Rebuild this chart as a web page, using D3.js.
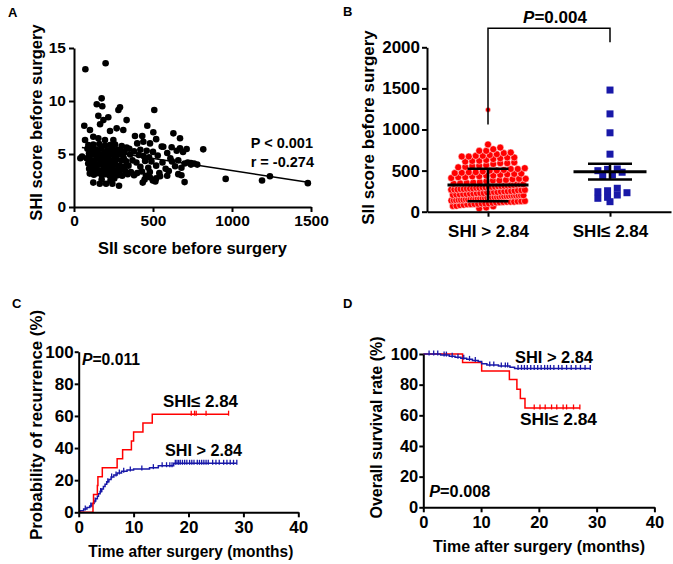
<!DOCTYPE html>
<html><head><meta charset="utf-8">
<script src="https://cdn.jsdelivr.net/npm/d3@7"></script>
<style>
body{margin:0;background:#fff}
svg text{font-family:"Liberation Sans",Arial,sans-serif;font-weight:bold;fill:#000}
</style></head><body><svg id="c" width="673" height="564"></svg>
<script>
// ---------- Panel A: SII vs SHI scatter ----------
const siiA = [72,200,175,144,179,291,281,508,154,217,186,333,65,464,165,270,312,228,502,101,386,432,629,671,122,154,70,196,249,439,481,565,618,818,671,713,51,
 91,122,160,196,228,260,302,333,555,
 85,108,135,150,172,210,240,275,295,320,380,420,460,500,590,650,690,
 95,118,140,165,188,205,235,255,283,310,355,410,440,475,530,610,660,720,760,780,
 80,100,128,152,180,198,222,248,270,300,330,370,395,450,490,560,620,700,740,
 90,112,138,160,185,212,238,262,290,318,345,420,470,520,580,640,680,
 96,120,146,170,195,220,245,268,296,325,360,400,430,480,540,600,660,
 100,126,150,176,200,226,252,276,305,340,380,455,545,590,680,1240,
 130,215,280,315,240,190,265,115,145,350,400,520,740,40,
 122,163,175,203,231,243,255,285,435,447,480,499,515,520,700,960,1190,1480];
const shiA = [13.0,13.56,10.25,9.7,9.5,9.4,9.15,9.15,8.6,8.46,8.2,8.2,7.67,7.67,7.8,7.42,7.26,7.17,7.05,7.26,6.7,6.7,6.95,6.48,6.63,6.48,6.32,6.32,6.32,6.16,6.0,5.69,5.63,5.44,5.54,5.47,4.75,
 5.85,5.9,5.95,5.8,5.85,5.9,5.75,5.6,5.7,
 5.5,5.4,5.45,5.3,5.5,5.35,5.5,5.4,5.3,5.2,5.25,5.4,5.3,5.2,5.1,5.3,5.2,
 5.05,4.95,5.1,4.9,5.0,4.8,5.0,4.85,5.0,4.9,4.95,4.9,4.8,4.7,4.85,4.6,4.4,4.2,4.1,4.0,
 4.6,4.5,4.4,4.55,4.45,4.35,4.5,4.4,4.5,4.4,4.3,4.4,4.2,4.35,4.3,4.2,4.3,4.1,4.15,
 4.1,4.0,3.95,4.05,3.9,4.0,3.85,4.0,3.9,3.8,3.9,3.8,3.7,3.9,3.6,3.85,3.7,
 3.6,3.5,3.55,3.45,3.6,3.4,3.5,3.35,3.5,3.4,3.3,3.2,3.35,3.3,3.2,3.4,3.1,
 3.15,3.05,3.2,3.0,3.1,2.95,3.05,3.0,2.95,3.1,3.0,2.95,2.9,2.95,3.0,2.9,
 3.3,3.7,3.6,4.6,4.2,4.7,5.1,4.25,4.8,5.5,6.0,6.4,4.0,4.6,
 2.3,2.2,2.6,2.2,2.5,2.2,2.7,2.0,2.3,2.6,2.8,2.5,2.4,2.7,2.35,2.65,2.5,2.25];
const fitX = [50, 1470];
const fitY = [5.62, 2.35];
const xTicksA = [0,500,1000,1500];
const yTicksA = [0,5,10,15];

// ---------- Panel B ----------
const catsB = ["SHI > 2.84", "SHI\u2264 2.84"];
const cutoffB = 2.84;
const meanB = [325, 487];
const errB = [199, 95];
const yTicksB = [0,500,1000,1500,2000];

// ---------- Panel C: recurrence ----------
const recRedT = [0,2.6,2.7,3.4,3.5,4.3,7.0,8.0,9.6,10.0,11.7,13.4];
const recRedV = [0,5.6,11.1,16.7,22.2,27.8,33.3,38.9,44.4,50.0,55.6,61.1];
const recRedEnd = 27.3;
const recRedCens = [20.5,21.1,21.4,23.2,27.3];
const recBlueT = [0,0.3,0.9,1.5,2.0,2.4,2.8,3.1,3.4,3.6,3.9,4.2,4.5,4.8,5.1,5.5,5.9,6.4,7.0,7.8,8.8,10.0,12.9,14.5,17.3];
const recBlueV = [0,1.0,2.0,3.0,4.0,5.5,7.0,8.5,10.0,11.5,13.0,14.5,16.0,17.5,19.0,20.5,22.0,23.3,24.5,25.5,26.4,27.0,27.8,29.0,30.5];
const recBlueEnd = 28.8;
const recBlueCens = [1.2,2.2,3.0,4.0,5.3,6.0,6.8,7.4,8.2,9.4,11.5,13.6,15.2,16.0,16.6,17.0,17.6,17.9,18.2,18.5,18.9,19.3,19.7,20.2,20.6,21.0,21.6,22.0,22.4,22.8,23.2,23.6,24.4,25.0,25.6,26.4,27.0,27.6,28.2,28.8];
const ticksC = [0,10,20,30,40];
const yTicksKM = [0,20,40,60,80,100];

// ---------- Panel D: overall survival ----------
const osRedT = [0,6.8,10.1,14.9,16.2,16.8,17.6];
const osRedV = [100,94.4,88.9,83.3,77.0,70.9,64.8];
const osRedEnd = 27.1;
const osRedCens = [19.2,20.2,21.1,22.2,23.1,24.2,24.8,26.0,27.1];
const osBlueT = [0,3.0,4.5,5.5,6.5,7.5,8.5,9.5,10.1,11.0,13.0,15.0,15.8];
const osBlueV = [100,99.3,98.6,97.9,97.2,96.5,95.8,95.1,93.6,92.9,92.2,91.4,90.6];
const osBlueEnd = 28.9;
const osBlueCens = [1.0,1.8,2.5,3.6,4.0,5.0,6.0,7.0,8.0,9.0,11.5,12.2,13.5,14.2,14.6,16.4,17.0,17.5,18.0,18.6,19.2,19.8,20.4,21.0,21.5,22.0,22.6,23.4,24.0,24.8,25.6,26.4,27.2,28.0,28.9];

const RED = "#ff0000", BLUE = "#1818a8";
const fmt = d3.format("d");
const svg = d3.select("#c");
svg.append("rect").attr("width",673).attr("height",564).attr("fill","#fff");

function styleAxis(g, fs){
  g.attr("font-size", fs);
  g.select(".domain").attr("stroke","#000").attr("stroke-width",2);
  g.selectAll(".tick line").attr("stroke","#000").attr("stroke-width",2);
  g.selectAll(".tick text").attr("fill","#000");
}
function txt(x,y,s,fs,anchor,len){
  const t = svg.append("text").attr("x",x).attr("y",y).attr("font-size",fs).attr("text-anchor",anchor||"start").text(s);
  if(len){t.attr("textLength",len).attr("lengthAdjust","spacingAndGlyphs");}
  return t;
}
function vtxt(x,y,s,fs,len){
  const t = svg.append("text").attr("transform",`translate(${x},${y}) rotate(-90)`).attr("font-size",fs).attr("text-anchor","middle").text(s);
  if(len){t.attr("textLength",len).attr("lengthAdjust","spacingAndGlyphs");}
  return t;
}
function ptxt(x,y,rest,fs,anchor,len){
  const t = svg.append("text").attr("x",x).attr("y",y).attr("font-size",fs).attr("text-anchor",anchor||"start");
  t.append("tspan").attr("font-style","italic").text("P");
  t.append("tspan").text(rest);
  if(len){t.attr("textLength",len).attr("lengthAdjust","spacingAndGlyphs");}
}

// Panel letters
txt(8,17,"A",13); txt(343,16,"B",13); txt(12,308,"C",13); txt(343,308,"D",13);

// ===== Panel A =====
const xA = d3.scaleLinear([0,1500],[74,311]);
const yA = d3.scaleLinear([0,15],[207,48]);
svg.append("g").selectAll("circle").data(siiA.map((v,i)=>[v,shiA[i]])).join("circle")
  .attr("cx",d=>xA(d[0])).attr("cy",d=>yA(d[1])).attr("r",3.3).attr("fill","#000");
svg.append("line").attr("x1",xA(fitX[0])).attr("y1",yA(fitY[0])).attr("x2",xA(fitX[1])).attr("y2",yA(fitY[1]))
  .attr("stroke","#000").attr("stroke-width",1.5);
styleAxis(svg.append("g").attr("transform","translate(0,207)").call(d3.axisBottom(xA).tickValues(xTicksA).tickFormat(fmt).tickSize(5).tickPadding(3).tickSizeOuter(0)),15.5);
styleAxis(svg.append("g").attr("transform","translate(74,0)").call(d3.axisLeft(yA).tickValues(yTicksA).tickFormat(fmt).tickSize(5).tickPadding(3).tickSizeOuter(0)),15.5);
vtxt(42,122.5,"SHI score before surgery",16.5);
txt(192.5,254,"SII score before surgery",16.5,"middle");
txt(313,148,"P < 0.001",14.5,"end");
txt(314,167,"r = -0.274",14.5,"end");

// ===== Panel B =====
const yB = d3.scaleLinear([0,2000],[211.7,47.3]);
const xB = d3.scalePoint(catsB,[427,671]).padding(0.5);
const redB = siiA.filter((v,i)=>shiA[i] > cutoffB);
const blueB = siiA.filter((v,i)=>shiA[i] <= cutoffB);
function swarm(vals, cx, binPx, spacing, maxHalf){
  const sorted = vals.slice().sort((a,b)=>a-b);
  const groups = d3.groups(sorted, v=>Math.round(yB(v)/binPx));
  const out = [];
  groups.forEach(([k,vs],gi)=>{
    const n = vs.length;
    const s = n>1 ? Math.min(spacing, 2*maxHalf/(n-1)) : 0;
    const shift = (gi%2) ? s*0.25 : -s*0.25;
    vs.forEach((v,i)=>out.push({v, x: cx + (i-(n-1)/2)*s + (n>2?shift:0)}));
  });
  return out;
}
const redPts = swarm(redB, xB(catsB[0]), 5.5, 7, 36);
svg.append("g").selectAll("circle").data(redPts).join("circle")
  .attr("cx",d=>d.x).attr("cy",d=>yB(d.v)).attr("r",d=>d.v>1000?2.6:3.5)
  .attr("fill",RED).attr("stroke","#fff").attr("stroke-width",0.5);
const bluePts = swarm(blueB, xB(catsB[1]), 7, 9.7, 30);
svg.append("g").selectAll("rect").data(bluePts).join("rect")
  .attr("x",d=>d.x-3.5).attr("y",d=>yB(d.v)-3.5).attr("width",7).attr("height",7).attr("fill",BLUE);
catsB.forEach((c,i)=>{
  const cx = xB(c), half = i===0?40.5:36.5, cap = i===0?20.5:22;
  const g = svg.append("g").attr("stroke","#000");
  g.append("line").attr("x1",cx-half).attr("x2",cx+half).attr("y1",yB(meanB[i])).attr("y2",yB(meanB[i])).attr("stroke-width",3);
  g.append("line").attr("x1",cx).attr("x2",cx).attr("y1",yB(meanB[i]-errB[i])).attr("y2",yB(meanB[i]+errB[i])).attr("stroke-width",2.5);
  [meanB[i]-errB[i], meanB[i]+errB[i]].forEach(v=>g.append("line").attr("x1",cx-cap).attr("x2",cx+cap).attr("y1",yB(v)).attr("y2",yB(v)).attr("stroke-width",2.5));
});
styleAxis(svg.append("g").attr("transform","translate(427,0)").call(d3.axisLeft(yB).tickValues(yTicksB).tickFormat(fmt).tickSize(5).tickPadding(2).tickSizeOuter(0)),17);
styleAxis(svg.append("g").attr("transform","translate(0,211.7)").call(d3.axisBottom(xB).tickSize(5).tickPadding(8).tickSizeOuter(0)),17);
svg.append("path").attr("d",`M${xB(catsB[0])},${yB(1060)}V28.3H${xB(catsB[1])}V42.3`).attr("fill","none").attr("stroke","#000").attr("stroke-width",1.5);
ptxt(555,23.3,"=0.004",17,"middle");
vtxt(374,127.5,"SII score before surgery",17);

// ===== KM helper =====
function km(xs, ys, ts, vs, tEnd, cens, color){
  const pts = ts.map((t,i)=>[t,vs[i]]); pts.push([tEnd, vs[vs.length-1]]);
  svg.append("path").attr("d", d3.line().x(d=>xs(d[0])).y(d=>ys(d[1])).curve(d3.curveStepAfter)(pts))
    .attr("fill","none").attr("stroke",color).attr("stroke-width",1.5);
  const valAt = t => { let v = vs[0]; ts.forEach((tt,i)=>{ if(tt<=t) v = vs[i]; }); return v; };
  svg.append("g").selectAll("line").data(cens).join("line")
    .attr("x1",d=>xs(d)).attr("x2",d=>xs(d)).attr("y1",d=>ys(valAt(d))-3.5).attr("y2",d=>ys(valAt(d))+1.5)
    .attr("stroke",color).attr("stroke-width",1.3);
}

// ===== Panel C =====
const xC = d3.scaleLinear([0,40],[78.7,298.3]);
const yC = d3.scaleLinear([0,100],[512.3,351.7]);
km(xC,yC,recBlueT,recBlueV,recBlueEnd,recBlueCens,BLUE);
km(xC,yC,recRedT,recRedV,recRedEnd,recRedCens,RED);
styleAxis(svg.append("g").attr("transform","translate(0,512.3)").call(d3.axisBottom(xC).tickValues(ticksC).tickFormat(fmt).tickSize(5).tickPadding(4).tickSizeOuter(0)),17);
styleAxis(svg.append("g").attr("transform","translate(78.7,0)").call(d3.axisLeft(yC).tickValues(yTicksKM).tickFormat(fmt).tickSize(4).tickPadding(1).tickSizeOuter(0)),17);
vtxt(42,425,"Probability of recurrence (%)",17,230);
txt(190.8,557,"Time after surgery (months)",17,"middle",205);
ptxt(82,365,"=0.011",16,"start",58);
txt(163,406.7,"SHI\u2264 2.84",16,"start",75);
txt(165,456,"SHI > 2.84",16,"start",77);

// ===== Panel D =====
const xD = d3.scaleLinear([0,40],[423.3,654.4]);
const yD = d3.scaleLinear([0,100],[507.3,354]);
km(xD,yD,osRedT,osRedV,osRedEnd,osRedCens,RED);
km(xD,yD,osBlueT,osBlueV,osBlueEnd,osBlueCens,BLUE);
styleAxis(svg.append("g").attr("transform","translate(0,507.3)").call(d3.axisBottom(xD).tickValues(ticksC).tickFormat(fmt).tickSize(5).tickPadding(4).tickSizeOuter(0)),16.5);
styleAxis(svg.append("g").attr("transform","translate(423.3,0)").call(d3.axisLeft(yD).tickValues(yTicksKM).tickFormat(fmt).tickSize(4).tickPadding(1).tickSizeOuter(0)),16.5);
vtxt(381.5,427.5,"Overall survival rate (%)",16,182);
txt(539,551.7,"Time after surgery (months)",17,"middle",212);
txt(515,362.7,"SHI > 2.84",16,"start",78);
txt(520,425,"SHI\u2264 2.84",16,"start",77);
ptxt(429.3,496.7,"=0.008",16,"start",61);
</script></body></html>
